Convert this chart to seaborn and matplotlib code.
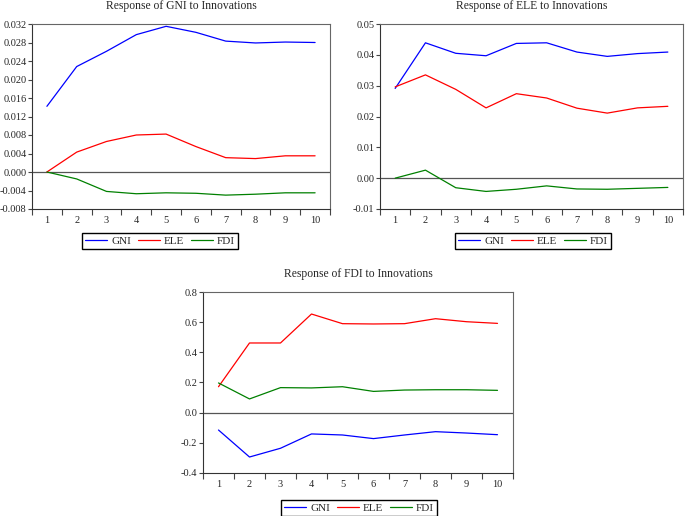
import numpy as np
import pandas as pd
import matplotlib
matplotlib.use("Agg")
import matplotlib.pyplot as plt
import seaborn as sns

periods = list(range(1, 11))
shocks = ["GNI", "ELE", "FDI"]

# Response of GNI
gni_gni = [0.0142, 0.0228, 0.0261, 0.0297, 0.0315, 0.0302, 0.0283, 0.0279, 0.0281, 0.0280]
gni_ele = [0.0000, 0.0043, 0.0066, 0.0080, 0.0082, 0.0055, 0.0031, 0.0029, 0.0035, 0.0035]
gni_fdi = [0.0000, -0.0015, -0.0042, -0.0047, -0.0045, -0.0046, -0.0050, -0.0048, -0.0045, -0.0045]

# Response of ELE
ele_gni = [0.0291, 0.0439, 0.0405, 0.0397, 0.0437, 0.0439, 0.0409, 0.0395, 0.0404, 0.0409]
ele_ele = [0.0296, 0.0335, 0.0288, 0.0228, 0.0274, 0.0260, 0.0227, 0.0211, 0.0228, 0.0233]
ele_fdi = [0.0000, 0.0026, -0.0031, -0.0043, -0.0036, -0.0025, -0.0035, -0.0036, -0.0033, -0.0030]

# Response of FDI
fdi_gni = [-0.115, -0.294, -0.236, -0.141, -0.148, -0.172, -0.148, -0.126, -0.135, -0.146]
fdi_ele = [0.172, 0.462, 0.462, 0.654, 0.590, 0.588, 0.590, 0.623, 0.603, 0.592]
fdi_fdi = [0.197, 0.091, 0.166, 0.164, 0.172, 0.141, 0.150, 0.152, 0.152, 0.148]

panels = [
    ("Response of GNI to Innovations", [gni_gni, gni_ele, gni_fdi],
     (-0.008, 0.032), np.arange(-0.008, 0.0321, 0.004), "{:.3f}"),
    ("Response of ELE to Innovations", [ele_gni, ele_ele, ele_fdi],
     (-0.01, 0.05), np.arange(-0.01, 0.0501, 0.01), "{:.2f}"),
    ("Response of FDI to Innovations", [fdi_gni, fdi_ele, fdi_fdi],
     (-0.4, 0.8), np.arange(-0.4, 0.801, 0.2), "{:.1f}"),
]

sns.set_style("ticks")
plt.rcParams["font.family"] = ["Liberation Serif", "DejaVu Serif"]
plt.rcParams["axes.unicode_minus"] = False

palette = {"GNI": "#0000ff", "ELE": "#ff0000", "FDI": "#008000"}

W, H = 685, 516
fig = plt.figure(figsize=(6.85, 5.16), dpi=100)

# axes boxes in pixels: left, top, right, bottom
boxes = [(32, 24, 330, 209), (380, 24, 683, 209), (203, 292, 513, 473)]
legend_pos = [(160, 241), (533, 241), (359, 508)]

for (title, series, ylim, yticks, fmt), box, lpos in zip(panels, boxes, legend_pos):
    l, t, r, b = box
    ax = fig.add_axes([l / W, 1 - b / H, (r - l) / W, (b - t) / H])
    df = pd.DataFrame({
        "period": periods * 3,
        "value": sum(series, []),
        "shock": np.repeat(shocks, len(periods)),
    })
    sns.lineplot(data=df, x="period", y="value", hue="shock", palette=palette,
                 linewidth=0.9, ax=ax, legend=False)
    ax.axhline(0, color="#555555", linewidth=0.9, zorder=1)
    ax.set_xlim(0.5, 10.5)
    ax.set_ylim(*ylim)
    ax.set_xticks(periods)
    ax.set_xticklabels([str(p) for p in periods])
    ax.set_xticks(np.arange(0.5, 10.6, 1), minor=True)
    ax.tick_params(axis="x", which="major", length=0, pad=5, labelsize=7.5)
    ax.tick_params(axis="x", which="minor", length=4, width=0.8, color="#444444")
    ax.set_yticks(yticks)
    ax.set_yticklabels([fmt.format(0.0 if abs(v) < 1e-9 else v) for v in yticks])
    ax.tick_params(axis="y", length=3, width=0.8, color="#444444", labelsize=7.5, pad=1)
    for s in ax.spines.values():
        s.set_color("#666666")
        s.set_linewidth(0.8)
    ax.spines["left"].set_color("#333333")
    ax.spines["bottom"].set_color("#333333")
    ax.set_xlabel("")
    ax.set_ylabel("")
    ax.set_title(title, fontsize=8.4, pad=10.5)

    handles = [plt.Line2D([], [], color=palette[k], linewidth=0.9) for k in shocks]
    fig.legend(handles, shocks, loc="center", bbox_to_anchor=(lpos[0] / W, 1 - lpos[1] / H),
               ncol=3, frameon=True, fancybox=False, edgecolor="black", fontsize=8,
               handlelength=2.0, columnspacing=0.6, handletextpad=0.35,
               borderpad=0.3, borderaxespad=0, framealpha=1)

fig.savefig("out.png", dpi=100)
